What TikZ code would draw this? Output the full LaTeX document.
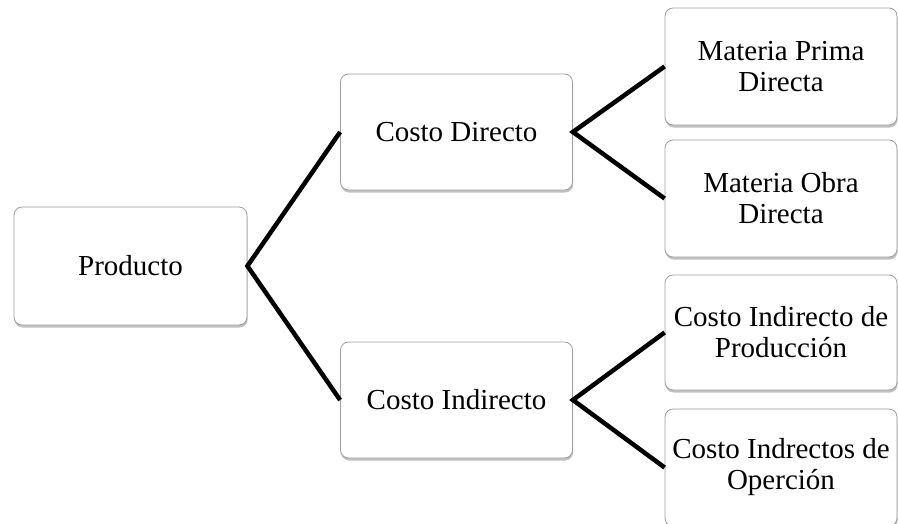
\documentclass[tikz,border=0pt]{standalone}
\usepackage{fontspec}
\setmainfont{Liberation Serif}
\usetikzlibrary{shadows}
\tikzset{
  box/.style={draw=black!38, line width=0.8pt, rounded corners=8pt, fill=white,
    minimum width=232pt, minimum height=116pt, inner sep=0pt, align=center,
    font=\fontsize{29}{31}\selectfont,
    drop shadow={shadow xshift=0.6pt, shadow yshift=-2.5pt, opacity=0.45, fill=black!55}},
  link/.style={line width=4.5pt, line join=miter, black}
}
\begin{document}
\begin{tikzpicture}[x=1pt, y=-1pt]
\useasboundingbox (0,0) rectangle (898,523);
\node[box, minimum width=233pt, minimum height=118pt] (prod) at (130.5,266) {Producto};
\node[box] (cd) at (456.5,132) {Costo Directo};
\node[box] (ci) at (456.5,400) {Costo Indirecto};
\node[box, minimum height=117pt] (mp) at (781,66.5) {Materia Prima\\Directa};
\node[box, minimum height=117pt] (mo) at (781,198.5) {Materia Obra\\Directa};
\node[box, minimum height=115pt] (cip) at (781,332.5) {Costo Indirecto de\\Producción};
\node[box, minimum height=117pt] (cio) at (781,467.5) {Costo Indrectos de\\Operción};
\draw[link] (cd.west) -- (prod.east) -- (ci.west);
\draw[link] (mp.west) -- (cd.east) -- (mo.west);
\draw[link] (cip.west) -- (ci.east) -- (cio.west);
\end{tikzpicture}
\end{document}
